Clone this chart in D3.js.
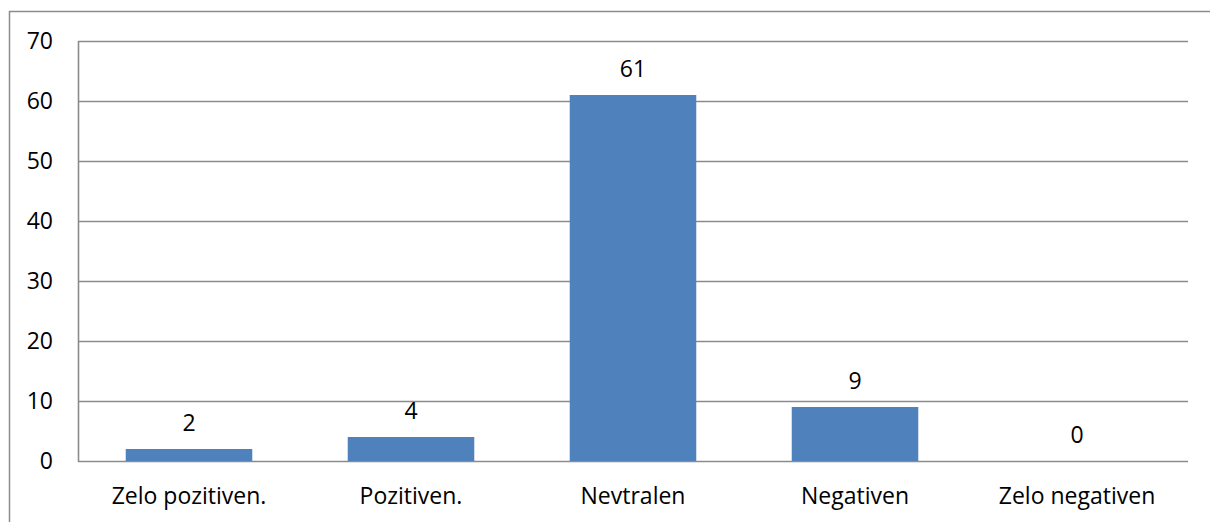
<!DOCTYPE html>
<html>
<head>
<meta charset="utf-8">
<script src="https://cdn.jsdelivr.net/npm/d3@7"></script>
<style>
  body { margin: 0; background: #fff; }
  svg { display: block; }
</style>
</head>
<body>
<svg id="chart"></svg>
<script>
const categories = ['Zelo pozitiven.', 'Pozitiven.', 'Nevtralen', 'Negativen', 'Zelo negativen'];
const values = [2, 4, 61, 9, 0];
const yTicks = [0, 10, 20, 30, 40, 50, 60, 70];

const width = 1210;
const height = 522;
const margin = { top: 41, right: 22, bottom: 60, left: 78 };
const fontSize = 23;

const svg = d3.select('#chart')
  .attr('width', width)
  .attr('height', height)
  .style('font-family', '"Open Sans", sans-serif');

// outer chart frame (cut off at the right and bottom)
svg.append('rect')
  .attr('x', 9.5)
  .attr('y', 11.5)
  .attr('width', width + 10)
  .attr('height', height + 10)
  .attr('fill', 'none')
  .attr('stroke', '#8c8c8c')
  .attr('stroke-width', 1.5);

const x = d3.scaleBand()
  .domain(categories)
  .range([margin.left, width - margin.right])
  .paddingInner(0.43)
  .paddingOuter(0.215);

const y = d3.scaleLinear()
  .domain([0, 70])
  .range([height - margin.bottom - 1, margin.top]);

// gridlines
svg.append('g')
  .selectAll('line')
  .data(yTicks)
  .join('line')
  .attr('x1', margin.left)
  .attr('x2', width - margin.right)
  .attr('y1', d => Math.round(y(d)) + 0.5)
  .attr('y2', d => Math.round(y(d)) + 0.5)
  .attr('stroke', '#8c8c8c')
  .attr('stroke-width', 1.6);

// left axis line
svg.append('line')
  .attr('x1', margin.left + 0.5)
  .attr('x2', margin.left + 0.5)
  .attr('y1', y(70))
  .attr('y2', y(0) + 1)
  .attr('stroke', '#8c8c8c')
  .attr('stroke-width', 1.6);

// y tick labels
svg.append('g')
  .selectAll('text')
  .data(yTicks)
  .join('text')
  .attr('x', 53)
  .attr('y', d => y(d))
  .attr('dy', '0.35em')
  .attr('text-anchor', 'end')
  .attr('font-size', fontSize)
  .attr('fill', '#000')
  .text(d => d);

// bars
svg.append('g')
  .selectAll('rect')
  .data(values)
  .join('rect')
  .attr('x', (d, i) => x(categories[i]))
  .attr('y', d => y(d))
  .attr('width', x.bandwidth())
  .attr('height', d => y(0) - y(d))
  .attr('fill', '#4f81bd');

// value labels
svg.append('g')
  .selectAll('text')
  .data(values)
  .join('text')
  .attr('x', (d, i) => x(categories[i]) + x.bandwidth() / 2)
  .attr('y', d => y(d) - 18)
  .attr('text-anchor', 'middle')
  .attr('font-size', fontSize)
  .attr('fill', '#000')
  .text(d => d);

// category labels
svg.append('g')
  .selectAll('text')
  .data(categories)
  .join('text')
  .attr('x', d => x(d) + x.bandwidth() / 2)
  .attr('y', 504)
  .attr('text-anchor', 'middle')
  .attr('font-size', fontSize)
  .attr('fill', '#000')
  .text(d => d);
</script>
</body>
</html>
